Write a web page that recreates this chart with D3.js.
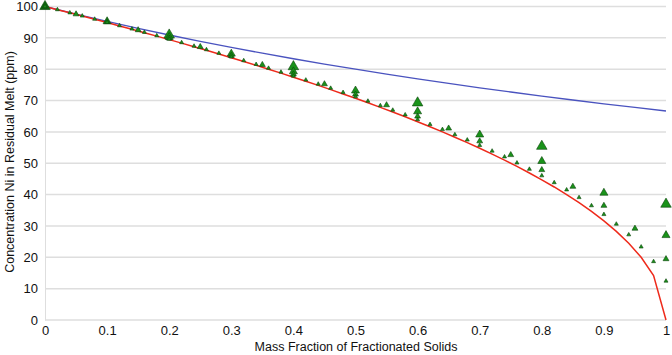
<!DOCTYPE html>
<html>
<head>
<meta charset="utf-8">
<script src="https://cdn.jsdelivr.net/npm/d3@7"></script>
<style>
  body { margin: 0; background: #fff; }
  svg { display: block; font-family: "Liberation Sans", Arial, sans-serif; }
  .tick text { font-size: 13px; fill: #111; }
  .axislabel { font-size: 12.5px; fill: #111; }
</style>
</head>
<body>
<script>
// fraction of solids removed, sampled every 0.02 / 0.05 / 0.1 / 0.2
var frac02 = [0,0.02,0.04,0.06,0.08,0.1,0.12,0.14,0.16,0.18,0.2,0.22,0.24,0.26,0.28,0.3,0.32,0.34,0.36,0.38,0.4,
    0.42,0.44,0.46,0.48,0.5,0.52,0.54,0.56,0.58,0.6,0.62,0.64,0.66,0.68,0.7,0.72,0.74,0.76,0.78,0.8,
    0.82,0.84,0.86,0.88,0.9,0.92,0.94,0.96,0.98,1];
var frac05 = [0,0.05,0.1,0.15,0.2,0.25,0.3,0.35,0.4,0.45,0.5,0.55,0.6,0.65,0.7,0.75,0.8,0.85,0.9,0.95,1];
var frac10 = [0,0.1,0.2,0.3,0.4,0.5,0.6,0.7,0.8,0.9,1];
var frac20 = [0,0.2,0.4,0.6,0.8,1];

// red: fractional (Rayleigh) curve
var rayleigh = [100,98.99,97.98,96.95,95.92,94.87,93.81,92.74,91.65,90.55,89.44,88.32,87.18,86.02,84.85,83.67,
    82.46,81.24,80.00,78.74,77.46,76.16,74.83,73.48,72.11,70.71,69.28,67.82,66.33,64.81,63.25,61.64,60.00,
    58.31,56.57,54.77,52.92,50.99,48.99,46.90,44.72,42.43,40.00,37.42,34.64,31.62,28.28,24.49,20.00,14.14,0];
// blue: equilibrium curve
var equilib = [100,97.56,95.24,93.02,90.91,88.89,86.96,85.11,83.33,81.63,80.00,78.43,76.92,75.47,74.07,
    72.73,71.43,70.18,68.97,67.80,66.67];

// green triangles: incremental steps
var inc02 = [100,99.01,98.01,97.00,95.98,94.95,93.90,92.85,91.78,90.70,89.61,88.50,87.38,86.25,85.10,83.93,
    82.75,81.55,80.33,79.10,77.84,76.57,75.27,73.95,72.60,71.23,69.84,68.41,66.96,65.47,63.94,62.39,60.79,
    59.14,57.45,55.71,53.91,52.06,50.13,48.12,46.03,43.84,41.53,39.09,36.48,33.68,30.61,27.21,23.33,18.66,12.44];
var inc05 = [100,97.56,95.06,92.49,89.85,87.12,84.31,81.41,78.39,75.26,71.98,68.56,64.95,61.13,57.05,52.66,
    47.88,42.56,36.48,29.18,19.46];
var inc10 = [100,95.24,90.23,84.92,79.26,73.16,66.51,59.12,50.67,40.54,27.03];
var inc20 = [100,90.91,80.81,69.26,55.41,36.94];

var yTicks = [0,10,20,30,40,50,60,70,80,90,100];
var xTicks = [0,0.1,0.2,0.3,0.4,0.5,0.6,0.7,0.8,0.9,1];

var W = 672, H = 355;
var x = d3.scaleLinear().domain([0, 1]).range([45, 666]);
var y = d3.scaleLinear().domain([0, 100]).range([320, 6.5]);

var svg = d3.select("body").append("svg")
    .attr("width", W)
    .attr("height", H);

// gridlines
svg.append("g").selectAll("line")
    .data(yTicks)
    .enter().append("line")
    .attr("x1", x(0)).attr("x2", x(1))
    .attr("y1", d => y(d)).attr("y2", d => y(d))
    .attr("stroke", "#dedede")
    .attr("stroke-width", 1.5);

// y axis
var yAxis = svg.append("g")
    .attr("transform", "translate(" + x(0) + ",0)")
    .call(d3.axisLeft(y).tickValues(yTicks).tickSize(0).tickPadding(7));
yAxis.select(".domain").attr("stroke", "#dedede").attr("stroke-width", 1);

// x axis
var xAxis = svg.append("g")
    .attr("transform", "translate(0," + y(0) + ")")
    .call(d3.axisBottom(x).tickValues(xTicks).tickSize(0).tickPadding(6)
        .tickFormat(d => d === 0 ? "0" : d === 1 ? "1" : d3.format(".1f")(d)));
xAxis.select(".domain").remove();

svg.append("text")
    .attr("class", "axislabel")
    .attr("x", 356).attr("y", 351)
    .attr("text-anchor", "middle")
    .text("Mass Fraction of Fractionated Solids");

svg.append("text")
    .attr("class", "axislabel")
    .attr("transform", "translate(14,162),rotate(-90)")
    .attr("text-anchor", "middle")
    .text("Concentration Ni in Residual Melt (ppm)");

// lines
var line = d3.line().x(d => x(d[0])).y(d => y(d[1]));
svg.append("path")
    .datum(d3.zip(frac05, equilib))
    .attr("d", line)
    .attr("fill", "none")
    .attr("stroke", "#4a53bf")
    .attr("stroke-width", 1.3);
svg.append("path")
    .datum(d3.zip(frac02, rayleigh))
    .attr("d", line)
    .attr("fill", "none")
    .attr("stroke", "#ee2a1b")
    .attr("stroke-width", 1.5);

// triangles, biggest first
var series = [
    { xs: frac20, ys: inc20, size: 48 },
    { xs: frac10, ys: inc10, size: 28 },
    { xs: frac05, ys: inc05, size: 15 },
    { xs: frac02, ys: inc02, size: 7 }
];
series.forEach(function (s) {
    svg.append("g").selectAll("path")
        .data(d3.zip(s.xs, s.ys))
        .enter().append("path")
        .attr("transform", d => "translate(" + x(d[0]) + "," + y(d[1]) + ")")
        .attr("d", d3.symbol(d3.symbolTriangle).size(s.size))
        .attr("fill", "#1a931a")
        .attr("stroke", "#0b430b")
        .attr("stroke-width", 0.6);
});
</script>
</body>
</html>
